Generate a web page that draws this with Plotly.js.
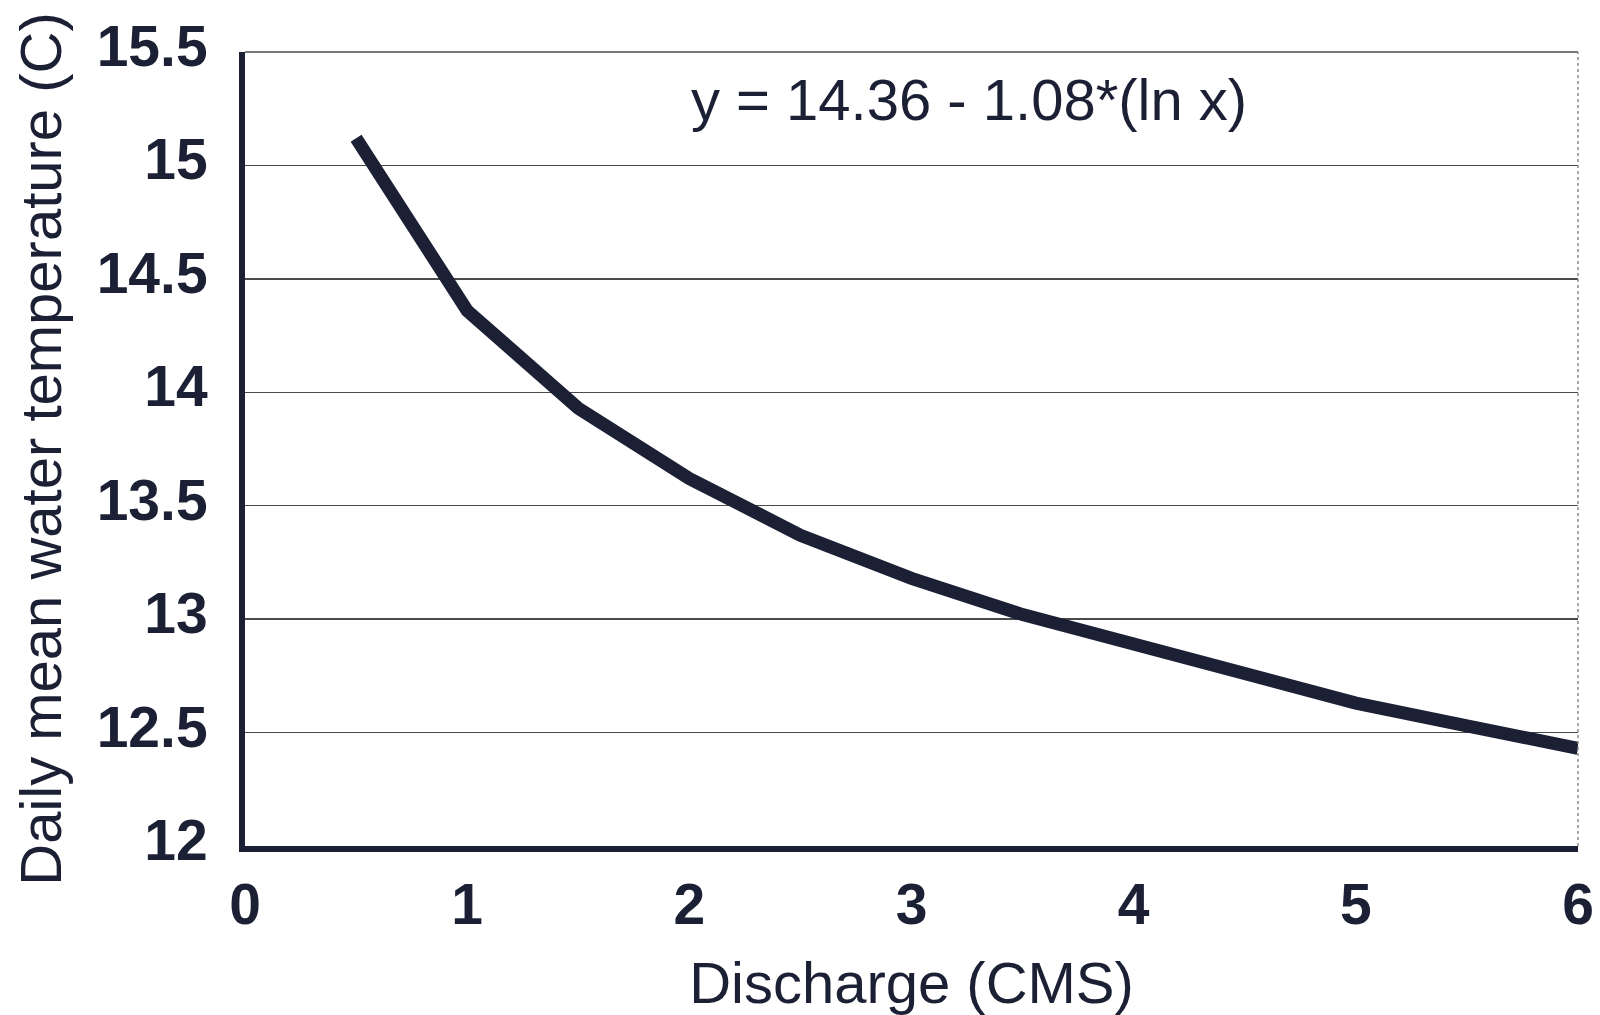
<!DOCTYPE html>
<html>
<head>
<meta charset="utf-8">
<script src="https://cdn.plot.ly/plotly-3.0.1.min.js"></script>
<style>
  html, body { margin: 0; padding: 0; background: #ffffff; }
  #chart { width: 1600px; height: 1015px; }
</style>
</head>
<body>
<div id="chart"></div>
<script>
// Data
const discharge = [0.5, 1, 1.5, 2, 2.5, 3, 3.5, 4, 4.5, 5, 5.5, 6];
const waterTemp = [15.12, 14.36, 13.93, 13.62, 13.37, 13.18, 13.02, 12.89, 12.76, 12.63, 12.53, 12.43];
const xTickVals = [0, 1, 2, 3, 4, 5, 6];
const xTickText = ['0', '1', '2', '3', '4', '5', '6'];
const yTickVals = [12, 12.5, 13, 13.5, 14, 14.5, 15, 15.5];
const yTickText = ['12', '12.5', '13', '13.5', '14', '14.5', '15', '15.5'];
const equationText = 'y = 14.36 - 1.08*(ln x)';
const xTitle = 'Discharge (CMS)';
const yTitle = 'Daily mean water temperature (C)';

const ink = '#1c2035';

const trace = {
  x: discharge,
  y: waterTemp,
  type: 'scatter',
  mode: 'lines',
  line: { color: ink, width: 13 },
  hoverinfo: 'x+y'
};

const layout = {
  width: 1600,
  height: 1015,
  paper_bgcolor: '#ffffff',
  plot_bgcolor: '#ffffff',
  showlegend: false,
  margin: { l: 245, r: 22, t: 52, b: 169 },
  font: { family: 'Liberation Sans, Arial, sans-serif', color: ink },
  xaxis: {
    range: [0, 6],
    tickvals: xTickVals,
    ticktext: xTickText,
    ticks: '',
    showgrid: false,
    zeroline: false,
    showline: true,
    linecolor: ink,
    linewidth: 6,
    ticklabelstandoff: 4,
    tickfont: { family: 'Liberation Sans, Arial, sans-serif', size: 57, color: ink, weight: 'bold' },
    title: {
      text: xTitle,
      font: { family: 'Liberation Sans, Arial, sans-serif', size: 58, color: ink },
      standoff: 46
    }
  },
  yaxis: {
    range: [12, 15.5],
    tickvals: yTickVals,
    ticktext: yTickText,
    ticks: '',
    showgrid: true,
    gridcolor: '#4a4a4a',
    gridwidth: 1.5,
    zeroline: false,
    showline: true,
    linecolor: ink,
    linewidth: 6,
    ticklabelstandoff: 20,
    ticklabelshift: -6,
    tickfont: { family: 'Liberation Sans, Arial, sans-serif', size: 57, color: ink, weight: 'bold' },
    title: {
      text: yTitle,
      font: { family: 'Liberation Sans, Arial, sans-serif', size: 58, color: ink },
      standoff: 18
    }
  },
  shapes: [
    { type: 'line', xref: 'paper', yref: 'paper', x0: 0, x1: 1, y0: 1, y1: 1,
      line: { color: '#4a4a4a', width: 1.5 } },
    { type: 'line', xref: 'paper', yref: 'paper', x0: 1, x1: 1, y0: 0, y1: 1,
      line: { color: '#8a8a8a', width: 1.5, dash: 'dot' } }
  ],
  annotations: [
    {
      text: equationText,
      xref: 'paper', yref: 'paper',
      x: 0.543, y: 0.94,
      xanchor: 'center', yanchor: 'middle',
      showarrow: false,
      font: { family: 'Liberation Sans, Arial, sans-serif', size: 58, color: ink }
    }
  ]
};

Plotly.newPlot('chart', [trace], layout, { displayModeBar: false, staticPlot: true });
</script>
</body>
</html>
